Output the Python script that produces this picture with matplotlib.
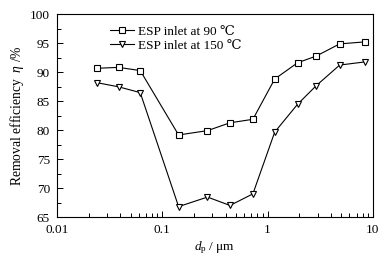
import matplotlib
matplotlib.use('Agg')
import matplotlib.pyplot as plt
from matplotlib.ticker import MultipleLocator, FixedLocator, FixedFormatter

plt.rcParams['font.family'] = ['Liberation Serif', 'DejaVu Serif']
plt.rcParams['mathtext.fontset'] = 'custom'
plt.rcParams['mathtext.rm'] = 'Liberation Serif'
plt.rcParams['mathtext.it'] = 'Liberation Serif:italic'

# particle diameter (um)
dp = [0.0242, 0.0385, 0.0618, 0.143, 0.269, 0.440, 0.726, 1.17, 1.93, 2.90, 4.84, 8.47]
# removal efficiency (%)
eff_90 = [90.7, 90.85, 90.3, 79.2, 79.95, 81.3, 81.9, 88.85, 91.65, 92.8, 94.9, 95.25]
eff_150 = [88.2, 87.5, 86.5, 66.85, 68.5, 67.05, 69.05, 79.7, 84.5, 87.7, 91.25, 91.8]
labels = ['ESP inlet at 90 \u2103', 'ESP inlet at 150 \u2103']

fig = plt.figure(figsize=(3.9, 2.6), dpi=100)
ax = fig.add_axes([0.146, 0.164, 0.81, 0.781])

ax.plot(dp, eff_90, 'k-', marker='s', mfc='white', mec='black', ms=4.5, lw=0.8, mew=0.8, label=labels[0])
ax.plot(dp, eff_150, 'k-', marker='v', mfc='white', mec='black', ms=5, lw=0.8, mew=0.8, label=labels[1])

ax.set_xscale('log')
ax.set_xlim(0.01, 10)
ax.set_ylim(65, 100)
ax.xaxis.set_major_locator(FixedLocator([0.01, 0.1, 1, 10]))
ax.xaxis.set_major_formatter(FixedFormatter(['0.01', '0.1', '1', '10']))
ax.yaxis.set_major_locator(MultipleLocator(5))
ax.yaxis.set_minor_locator(MultipleLocator(2.5))
ax.tick_params(which='both', direction='in', top=False, right=False, labelsize=9.5, width=0.7)
ax.tick_params(which='major', length=4, pad=5)
ax.tick_params(which='minor', length=3)
for s in ax.spines.values():
    s.set_linewidth(0.8)

ax.set_xlabel('$\\mathit{d}_{\\mathrm{p}}$ / \u03bcm', fontsize=9.5, labelpad=2)
ax.set_ylabel('Removal efficiency  $\\mathit{\\eta}$ /%', fontsize=9.8, labelpad=3)

ax.legend(loc='upper left', bbox_to_anchor=(0.14, 0.99), frameon=False, fontsize=9.5,
          handlelength=1.8, handletextpad=0.3, labelspacing=0.15, borderaxespad=0.3)

fig.savefig('out.png', dpi=100)
